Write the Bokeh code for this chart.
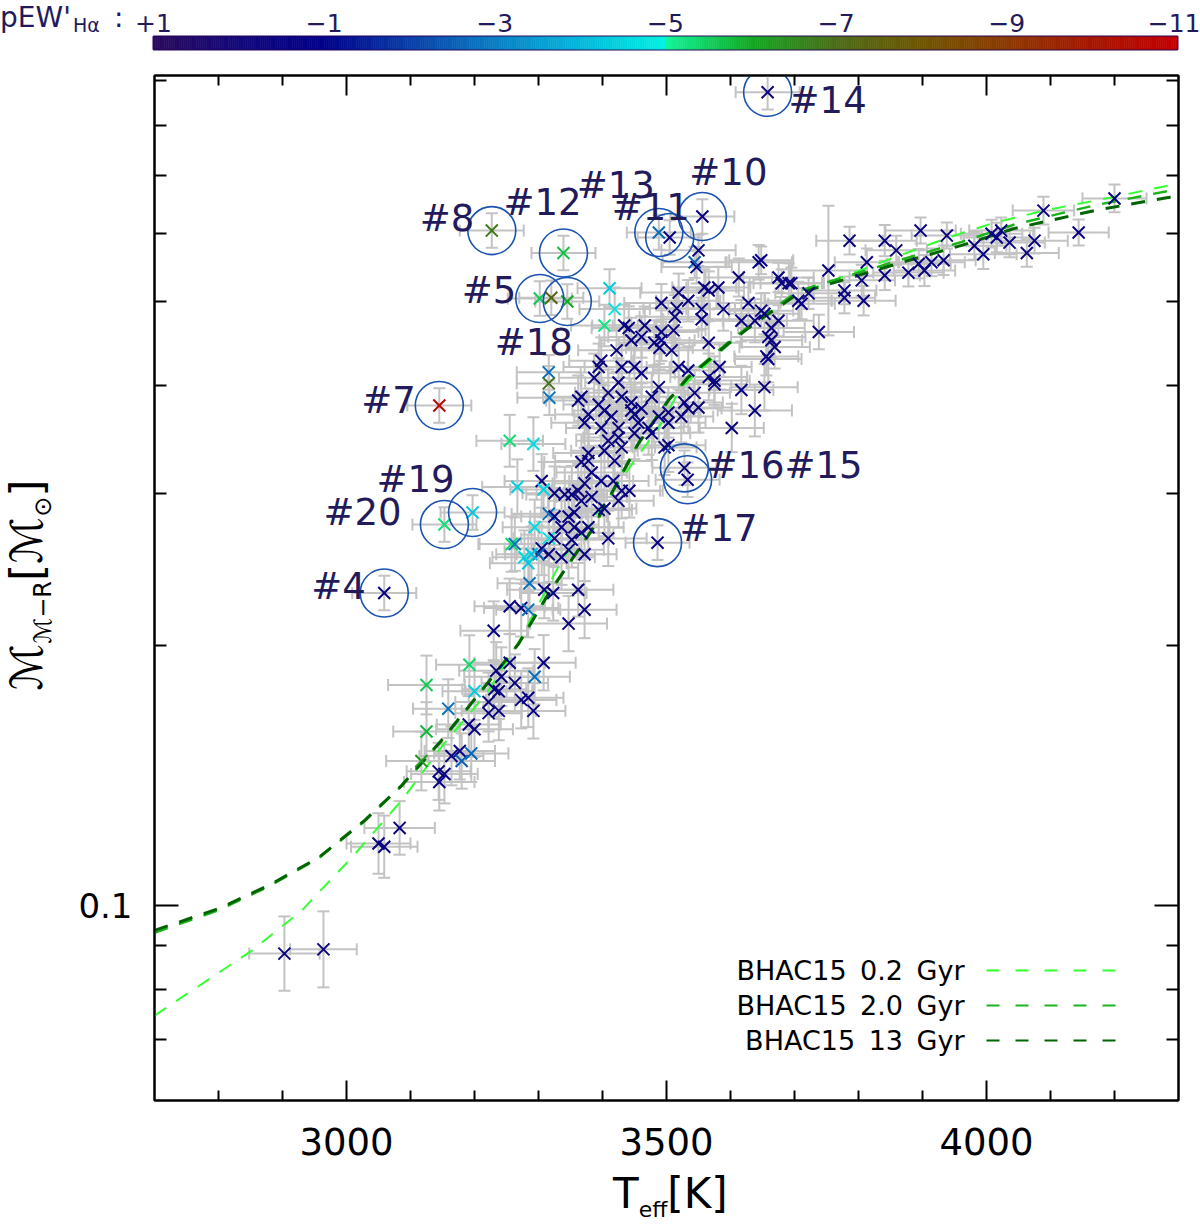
import numpy as np
from bokeh.plotting import figure
from bokeh.models import (Range1d, FixedTicker, LinearAxis, LogAxis, Whisker, TeeHead,
                          ColumnDataSource, Label, Arrow, PrintfTickFormatter, Div,
                          CustomJSTickFormatter)
from bokeh.layouts import column, row
from bokeh.embed import file_html
from bokeh.resources import INLINE
from bokeh.core.properties import value

FONT = "DejaVu Sans"
TXT = "#231a5c"

# ---------------- data ----------------
teff = [
    3786, 3841, 3897, 3859, 3753, 3813, 3805, 3841, 3778, 3778,
    3808, 3738, 3711, 3680, 3695, 3675, 3648, 3722, 3648, 3675,
    3664, 3656, 3664, 3878, 3894, 3903, 3914, 3933, 3938, 3981,
    3995, 4008, 4023, 4036, 4063, 4075, 4089, 4144, 4200, 4016,
    3411, 3419, 3403, 3441, 3466, 3492, 3513, 3519, 3534, 3555,
    3566, 3581, 3589, 3613, 3628, 3691, 3706, 3555, 3511, 3481,
    3489, 3508, 3445, 3450, 3422, 3461, 3398, 3387, 3430, 3461,
    3519, 3534, 3566, 3566, 3583, 3575, 3617, 3638, 3659, 3659,
    3669, 3617, 3653, 3638, 3602, 3544, 3528, 3550, 3523, 3488,
    3477, 3461, 3445, 3430, 3409, 3367, 3362, 3394, 3378, 3403,
    3414, 3372, 3398, 3425, 3450, 3456, 3472, 3488, 3503, 3534,
    3409, 3425, 3430, 3477, 3497, 3378, 3403, 3419, 3503, 3445,
    3255, 3292, 3267, 3305, 3308, 3325, 3341, 3352, 3362, 3372,
    3383, 3367, 3378, 3398, 3417, 3430, 3442, 3450, 3503, 3383,
    3367, 3403, 3425, 3316, 3325, 3294, 3316, 3347, 3356, 3336,
    3356, 3325, 3352, 3367, 3378, 3394, 3409, 3372, 3347, 3336,
    3316, 3305, 3300, 3289, 3278, 3284, 3258, 3263, 3286, 3309,
    3323, 3362, 3372, 3347, 3230, 3255, 3273, 3284, 3192, 3255,
    3308, 3242, 3263, 3294, 3125, 3200, 3238, 3284, 3234, 3231,
    3222, 3273, 3292, 3238, 3222, 3159, 3191, 3200, 3125, 3177,
    3164, 3195, 3180, 3117, 3144, 3153, 3145, 3083, 3050, 3059,
    2903, 2964, 3550, 3544, 3547, 3644, 3559, 3492, 3516, 3653,
    3434, 3394, 3425, 3492, 3575,
]
mass = [
    0.588, 0.588, 0.604, 0.573, 0.543, 0.555, 0.529, 0.536, 0.515, 0.505,
    0.501, 0.461, 0.497, 0.525, 0.525, 0.533, 0.558, 0.511, 0.488, 0.475,
    0.451, 0.432, 0.466, 0.540, 0.553, 0.543, 0.555, 0.558, 0.596, 0.580,
    0.567, 0.599, 0.604, 0.585, 0.569, 0.588, 0.637, 0.601, 0.658, 0.593,
    0.518, 0.490, 0.469, 0.466, 0.469, 0.451, 0.480, 0.512, 0.501, 0.490,
    0.515, 0.519, 0.490, 0.533, 0.498, 0.525, 0.501, 0.477, 0.463, 0.448,
    0.442, 0.439, 0.451, 0.420, 0.439, 0.455, 0.427, 0.408, 0.420, 0.413,
    0.420, 0.416, 0.448, 0.409, 0.420, 0.405, 0.475, 0.475, 0.455, 0.429,
    0.443, 0.395, 0.398, 0.374, 0.357, 0.392, 0.382, 0.377, 0.368, 0.398,
    0.388, 0.376, 0.374, 0.388, 0.392, 0.388, 0.384, 0.380, 0.370, 0.374,
    0.368, 0.362, 0.357, 0.357, 0.370, 0.362, 0.357, 0.368, 0.362, 0.376,
    0.345, 0.348, 0.339, 0.352, 0.339, 0.334, 0.336, 0.327, 0.372, 0.382,
    0.345, 0.342, 0.305, 0.310, 0.303, 0.300, 0.299, 0.299, 0.302, 0.308,
    0.317, 0.326, 0.327, 0.310, 0.310, 0.302, 0.302, 0.352, 0.341, 0.297,
    0.294, 0.288, 0.294, 0.284, 0.282, 0.274, 0.266, 0.282, 0.285, 0.274,
    0.274, 0.266, 0.265, 0.270, 0.274, 0.287, 0.266, 0.255, 0.258, 0.253,
    0.255, 0.259, 0.255, 0.255, 0.253, 0.249, 0.262, 0.262, 0.236, 0.232,
    0.230, 0.232, 0.220, 0.212, 0.208, 0.222, 0.221, 0.220, 0.190, 0.191,
    0.191, 0.184, 0.181, 0.184, 0.180, 0.177, 0.177, 0.174, 0.187, 0.178,
    0.172, 0.173, 0.168, 0.168, 0.167, 0.169, 0.162, 0.160, 0.159, 0.151,
    0.149, 0.150, 0.147, 0.147, 0.143, 0.142, 0.139, 0.123, 0.118, 0.117,
    0.088, 0.089, 0.573, 0.555, 0.548, 0.555, 0.519, 0.498, 0.491, 0.484,
    0.469, 0.420, 0.403, 0.461, 0.401,
]
pew = [
    -0.4, -0.6, -0.5, -0.3, -0.5, -0.7, -0.4, -0.5, -0.6, -0.3,
    -0.5, -0.4, -0.6, -0.5, -0.3, -0.5, -0.7, -0.4, -0.5, -0.6,
    -0.4, -0.5, -0.3, -0.6, -0.5, -0.4, -0.7, -0.5, -0.3, -0.5,
    -0.6, -0.4, -0.5, -0.5, -0.3, -0.6, -0.5, -0.4, -0.5, -0.6,
    -4.3, -4.8, -5.2, -0.5, -0.4, -0.6, -0.5, -0.3, -0.5, -0.7,
    -0.4, -0.5, -0.6, -0.3, -0.5, -0.4, -0.6, -0.5, -0.3, -0.5,
    -0.7, -0.4, -0.5, -0.6, -0.4, -0.5, -0.3, -0.5, -0.6, -0.4,
    -0.5, -0.7, -0.4, -0.5, -0.6, -0.3, -0.5, -0.4, -0.6, -0.5,
    -0.4, -0.5, -0.3, -0.6, -0.5, -0.4, -0.7, -0.5, -0.3, -0.5,
    -0.6, -0.4, -0.5, -0.5, -0.3, -0.6, -0.5, -0.4, -0.5, -0.6,
    -0.4, -0.5, -0.6, -0.3, -0.5, -0.7, -0.4, -0.5, -0.6, -0.5,
    -0.4, -0.5, -0.3, -0.6, -0.5, -0.4, -0.5, -0.6, -0.3, -0.5,
    -5.3, -4.6, -4.4, -0.5, -4.5, -0.6, -0.4, -0.5, -0.3, -0.5,
    -0.6, -0.4, -0.5, -0.7, -0.5, -0.3, -0.5, -0.6, -0.4, -0.5,
    -0.5, -0.6, -0.4, -2.8, -0.5, -4.6, -4.8, -0.4, -0.6, -0.5,
    -0.3, -0.5, -0.6, -0.4, -0.5, -0.7, -0.5, -0.4, -0.6, -0.5,
    -0.4, -0.5, -2.5, -4.2, -4.6, -4.3, -5.4, -2.8, -2.8, -0.5,
    -0.6, -0.4, -0.5, -0.3, -0.5, -0.6, -0.4, -2.8, -5.4, -0.5,
    -0.6, -0.5, -0.4, -2.8, -5.6, -4.4, -0.5, -0.6, -0.4, -0.5,
    -0.3, -0.5, -0.6, -0.4, -0.5, -2.8, -0.5, -0.4, -5.8, -0.6,
    -0.5, -2.6, -2.5, -6.3, -0.4, -0.5, -0.6, -0.5, -0.4, -0.5,
    -0.5, -0.4, -0.5, -2.6, -0.5, -0.6, -0.4, -0.5, -0.3, -0.5,
    -0.6, -0.4, -0.5, -0.5, -0.4,
]
teff_err = [
    52, 50, 55, 48, 60, 50, 52, 55, 50, 48,
    50, 55, 52, 50, 48, 55, 50, 52, 50, 55,
    48, 50, 52, 55, 50, 48, 52, 50, 55, 50,
    52, 48, 50, 55, 50, 52, 48, 47, 50, 52,
    50, 55, 52, 58, 50, 52, 55, 60, 50, 52,
    55, 50, 58, 52, 50, 55, 52, 60, 50, 55,
    52, 58, 50, 55, 60, 52, 50, 55, 58, 52,
    50, 55, 52, 60, 50, 55, 52, 50, 58, 52,
    55, 50, 52, 58, 50, 55, 60, 52, 50, 55,
    52, 58, 50, 55, 52, 60, 50, 55, 52, 50,
    58, 52, 55, 50, 60, 52, 55, 50, 58, 52,
    50, 55, 52, 60, 50, 55, 52, 58, 50, 55,
    52, 50, 55, 58, 52, 50, 60, 55, 52, 50,
    55, 58, 52, 50, 55, 60, 52, 50, 58, 55,
    52, 50, 55, 58, 52, 50, 55, 60, 52, 50,
    55, 52, 58, 50, 55, 52, 60, 50, 55, 52,
    50, 58, 52, 55, 50, 60, 52, 55, 50, 58,
    52, 55, 50, 60, 52, 55, 58, 50, 52, 55,
    50, 58, 52, 55, 60, 50, 52, 55, 58, 50,
    52, 55, 50, 58, 52, 55, 50, 60, 52, 55,
    50, 58, 52, 55, 50, 52, 55, 55, 50, 52,
    55, 52, 58, 50, 55, 52, 50, 58, 52, 55,
    50, 55, 52, 58, 50,
]
mass_err_dex = [
    .016, .018, .015, .017, .075, .016, .018, .017, .016, .018,
    .017, .020, .018, .016, .018, .017, .016, .018, .020, .018,
    .020, .022, .018, .016, .017, .018, .016, .017, .015, .016,
    .017, .016, .015, .017, .016, .015, .016, .015, .016, .017,
    .022, .025, .024, .025, .022, .024, .025, .022, .024, .023,
    .022, .024, .025, .022, .024, .023, .022, .025, .024, .026,
    .025, .024, .026, .028, .025, .024, .027, .028, .026, .027,
    .026, .028, .025, .027, .026, .028, .024, .025, .026, .027,
    .025, .028, .027, .030, .028, .027, .028, .029, .030, .027,
    .028, .029, .030, .028, .027, .028, .029, .028, .030, .029,
    .030, .029, .030, .031, .029, .030, .031, .029, .030, .028,
    .031, .030, .032, .031, .032, .031, .030, .032, .029, .028,
    .030, .031, .032, .031, .032, .031, .032, .033, .031, .032,
    .031, .032, .031, .032, .033, .032, .031, .030, .031, .032,
    .033, .032, .031, .032, .033, .032, .031, .033, .032, .031,
    .032, .033, .032, .031, .032, .033, .032, .031, .033, .032,
    .032, .031, .033, .032, .031, .033, .032, .031, .032, .033,
    .032, .031, .033, .032, .034, .032, .033, .032, .034, .033,
    .032, .034, .033, .032, .034, .033, .032, .034, .033, .032,
    .034, .033, .032, .034, .033, .034, .033, .032, .034, .033,
    .034, .033, .032, .034, .033, .034, .033, .031, .035, .036,
    .043, .044, .018, .018, .019, .020, .021, .022, .022, .024,
    .024, .027, .028, .025, .027,
]

# numbered targets
star_teff = [3658, 3556, 3488, 3505, 3227, 3339, 3302, 3320, 3345, 3316, 3316, 3317,
             3145, 3197, 3153, 3059, 3528, 3533, 3486]
star_mass = [0.873, 0.627, 0.601, 0.593, 0.604, 0.569, 0.504, 0.505, 0.500, 0.414, 0.402, 0.387,
             0.379, 0.285, 0.276, 0.230, 0.321, 0.311, 0.263]
star_pew = [-0.3, -0.5, -2.7, -0.5, -6.8, -5.7, -5.6, -7.3, -6.0, -2.7, -6.9, -2.9,
            -10.6, -4.3, -5.3, -0.5, -0.5, -0.5, -0.5]
star_circled = [1, 1, 1, 1, 1, 1, 1, 0, 1, 0, 0, 0, 1, 1, 1, 1, 1, 1, 1]
star_label = ["#14", "#10", "#13", "#11", "#8", "#12", "#5", "", "", "#18", "", "",
              "#7", "#19", "#20", "#4", "#16#15", "", "#17"]
label_dx = [21, -13, -82, -58, -72, -60, -78, 0, 0, -54, 0, 0, -78, -96, -121, -73, 22, 0, 22]
label_dy = [8, -44, -47, -30, -12, -50, -8, 0, 0, -30, 0, 0, -5, -33, -12, -6, -2, 0, -14]

# BHAC15 isochrones
iso02_teff = [2700, 2852, 2930, 3008, 3086, 3148, 3222, 3273, 3336, 3398, 3450, 3488,
              3523, 3581, 3628, 3700, 3773, 3856, 3941, 4013, 4091, 4195, 4300]
iso02_mass = [0.0746, 0.0887, 0.0987, 0.1136, 0.1323, 0.1524, 0.1773, 0.2042, 0.2507, 0.2888,
              0.3273, 0.3574, 0.3977, 0.4353, 0.4667, 0.5082, 0.5332, 0.5623, 0.5931, 0.6171,
              0.6372, 0.6597, 0.6847]
iso20_teff = [2700, 2800, 2878, 2956, 3028, 3086, 3148, 3211, 3269, 3316, 3383, 3456,
              3503, 3534, 3597, 3638, 3706, 3867, 3961, 4044, 4169, 4300]
iso20_mass = [0.0930, 0.0988, 0.1052, 0.1134, 0.1252, 0.1375, 0.1550, 0.1772, 0.2010, 0.2300,
              0.2720, 0.3430, 0.3850, 0.4095, 0.4490, 0.4740, 0.5140, 0.5590, 0.5860, 0.6140,
              0.6460, 0.6750]
iso13_teff = [2700, 2800, 2878, 2956, 3028, 3086, 3148, 3211, 3269, 3316, 3383, 3456,
              3503, 3534, 3597, 3638, 3706, 3867, 3961, 4044, 4169, 4284, 4300]
iso13_mass = [0.0936, 0.0992, 0.1055, 0.1136, 0.1254, 0.1377, 0.1552, 0.1773, 0.2009, 0.2297,
              0.2716, 0.3424, 0.3841, 0.4086, 0.4471, 0.4717, 0.5109, 0.5548, 0.5806, 0.6075,
              0.6372, 0.6597, 0.6610]
iso_labels = ["BHAC15\u20020.2\u2002Gyr", "BHAC15\u20022.0\u2002Gyr", "BHAC15\u200213\u2002Gyr"]
iso_colors = ["#33ff33", "#1db31d", "#006400"]

# colour scale of pEW'(Halpha)
cbar_ticks = [1, -1, -3, -5, -7, -9, -11]
cbar_tick_labels = ["+1", "\u22121", "\u22123", "\u22125", "\u22127", "\u22129", "\u221211"]
cmap_values = [1, 0, -1, -2, -3, -4, -5, -5.001, -6, -7, -8, -9, -10, -11]
cmap_colors = ["#2b0a5c", "#12087a", "#00008a", "#0a3ea8", "#0a7ec4", "#05b8dc", "#00f2e2",
               "#10f59a", "#12aa22", "#4c6c18", "#6e5600", "#8c3a00", "#a61600", "#c40000"]


def _rgb(h):
    return [int(h[i:i + 2], 16) for i in (1, 3, 5)]


_xp = np.array(cmap_values[::-1], dtype=float)
_rgbs = np.array([_rgb(c) for c in cmap_colors[::-1]], dtype=float)


def pew_color(v):
    r, g, b = (np.interp(v, _xp, _rgbs[:, k]) for k in range(3))
    return "#%02x%02x%02x" % (int(round(r)), int(round(g)), int(round(b)))


# ---------------- layout constants ----------------
W_SIDE = 75          # width of the y-title / pEW text column
W_PEW = 130

# ---------------- colour bar figure ----------------
cb = figure(width=1200 - W_PEW, height=68, x_range=Range1d(cbar_ticks[0], cbar_ticks[-1]),
            y_range=Range1d(0, 1), x_axis_location=None, y_axis_location=None,
            output_backend="svg", toolbar_location=None,
            min_border_left=153 - W_PEW, min_border_right=23, min_border_top=36,
            min_border_bottom=19)
cb.grid.grid_line_color = None
cb.outline_line_color = "#2b0a5c"
cb.outline_line_width = 2
edges = np.linspace(cbar_ticks[0], cbar_ticks[-1], 481)
mids = 0.5 * (edges[:-1] + edges[1:])
seg_cols = [pew_color(v) for v in mids]
cb.quad(left=edges[:-1], right=edges[1:], bottom=0, top=1, fill_color=seg_cols,
        line_color=seg_cols, line_width=0.6)
cb_axis = LinearAxis(ticker=FixedTicker(ticks=cbar_ticks, minor_ticks=[]),
                     major_label_overrides=dict(zip(cbar_ticks, cbar_tick_labels)))
cb_axis.axis_line_color = None
cb_axis.major_tick_line_color = None
cb_axis.major_tick_out = 0
cb_axis.major_tick_in = 0
cb_axis.major_label_standoff = 5
cb_axis.major_label_text_font = FONT
cb_axis.major_label_text_font_size = "25px"
cb_axis.major_label_text_color = TXT
cb.add_layout(cb_axis, "above")

div_pew = Div(width=W_PEW, height=68, margin=0, text=(
    '<div style="position:relative;width:%dpx;height:68px;font-family:\'DejaVu Sans\';color:%s;">'
    '<span style="position:absolute;left:0px;top:3px;font-size:28px;line-height:30px;">pEW\'</span>'
    '<span style="position:absolute;left:73px;top:15px;font-size:19px;line-height:20px;">H\u03b1</span>'
    '<span style="position:absolute;left:114px;top:3px;font-size:28px;line-height:30px;">:</span>'
    '</div>') % (W_PEW, TXT))

# ---------------- main figure ----------------
p = figure(frame_width=1024, frame_height=1025, width=1200 - W_SIDE, height=1097,
           x_range=Range1d(2700, 4300),
           y_range=Range1d(0.0595, 0.913), y_axis_type="log",
           x_axis_location=None, y_axis_location=None, output_backend="svg",
           toolbar_location=None, min_border_left=153 - W_SIDE, min_border_right=23,
           min_border_top=7, min_border_bottom=65)
p.grid.grid_line_color = None
p.outline_line_color = "black"
p.outline_line_width = 2

x_major = [3000, 3500, 4000]
x_minor = [2800, 2900, 3100, 3200, 3300, 3400, 3600, 3700, 3800, 3900, 4100, 4200]
y_major = [0.1]
y_minor = [0.07, 0.08, 0.09, 0.2, 0.3, 0.4, 0.5, 0.6, 0.7, 0.8, 0.9]


def style_axis(ax, show_labels, major_in, minor_in, font_size="37px", standoff=28):
    ax.axis_line_width = 2
    ax.axis_line_color = "black"
    ax.major_tick_in = major_in
    ax.major_tick_out = 0
    ax.minor_tick_in = minor_in
    ax.minor_tick_out = 0
    ax.major_tick_line_width = 2
    ax.minor_tick_line_width = 2
    ax.major_tick_line_color = "black"
    ax.minor_tick_line_color = "black"
    ax.major_label_text_font = FONT
    ax.major_label_text_color = "black"
    if show_labels:
        ax.major_label_text_font_size = font_size
        ax.major_label_standoff = standoff
    else:
        ax.formatter = CustomJSTickFormatter(code="return ''")
        ax.major_label_text_font_size = "1px"
        ax.major_label_standoff = 0


xb = LinearAxis(ticker=FixedTicker(ticks=x_major, minor_ticks=x_minor))
style_axis(xb, True, 20, 10, "37px", 27)
p.add_layout(xb, "below")
xt = LinearAxis(ticker=FixedTicker(ticks=x_major, minor_ticks=x_minor))
style_axis(xt, False, 20, 10)
p.add_layout(xt, "above")
yl = LogAxis(ticker=FixedTicker(ticks=y_major, minor_ticks=y_minor),
             formatter=PrintfTickFormatter(format="%.1f"))
style_axis(yl, True, 24, 12, "34px", 22)
p.add_layout(yl, "left")
yr = LogAxis(ticker=FixedTicker(ticks=y_major, minor_ticks=y_minor))
style_axis(yr, False, 24, 12)
p.add_layout(yr, "right")

# sources
n = min(len(teff), len(mass), len(pew), len(teff_err), len(mass_err_dex))
t_arr = np.array(teff[:n], dtype=float)
m_arr = np.array(mass[:n], dtype=float)
te = np.array(teff_err[:n], dtype=float)
me = np.array(mass_err_dex[:n], dtype=float)
src = ColumnDataSource(dict(t=t_arr, m=m_arr, tl=t_arr - te, tu=t_arr + te,
                            ml=m_arr * 10 ** (-me), mu=m_arr * 10 ** me,
                            c=[pew_color(v) for v in pew[:n]]))

st = np.array(star_teff, dtype=float)
sm = np.array(star_mass, dtype=float)
ssrc = ColumnDataSource(dict(t=st, m=sm, tl=st - 50, tu=st + 50,
                             ml=sm * 10 ** -0.02, mu=sm * 10 ** 0.02,
                             c=[pew_color(v) for v in star_pew]))

ERR = "#c3c3c3"
for s in (src, ssrc):
    p.add_layout(Whisker(source=s, base="m", lower="tl", upper="tu", dimension="width",
                         line_color=ERR, line_width=2,
                         upper_head=TeeHead(size=12, line_color=ERR, line_width=2),
                         lower_head=TeeHead(size=12, line_color=ERR, line_width=2)))
    p.add_layout(Whisker(source=s, base="t", lower="ml", upper="mu", dimension="height",
                         line_color=ERR, line_width=2,
                         upper_head=TeeHead(size=12, line_color=ERR, line_width=2),
                         lower_head=TeeHead(size=12, line_color=ERR, line_width=2)))

# isochrones
for tt, mm, col, lw in ((iso02_teff, iso02_mass, iso_colors[0], 2),
                        (iso20_teff, iso20_mass, iso_colors[1], 2.5),
                        (iso13_teff, iso13_mass, iso_colors[2], 3)):
    p.line(tt, mm, line_color=col, line_dash="14 12", line_width=lw)

p.scatter("t", "m", source=src, marker="x", size=17, line_color="c", line_width=2)
p.scatter("t", "m", source=ssrc, marker="x", size=17, line_color="c", line_width=2)

circ_t = [t for t, f in zip(star_teff, star_circled) if f]
circ_m = [m for m, f in zip(star_mass, star_circled) if f]
p.scatter(circ_t, circ_m, marker="circle", size=48, fill_alpha=0, line_color="#1a52b0",
          line_width=1.6)

lab_idx = [i for i, s in enumerate(star_label) if s]
lsrc = ColumnDataSource(dict(t=[star_teff[i] for i in lab_idx], m=[star_mass[i] for i in lab_idx],
                             txt=[star_label[i] for i in lab_idx],
                             dx=[label_dx[i] for i in lab_idx], dy=[label_dy[i] for i in lab_idx]))
p.text("t", "m", text="txt", x_offset="dx", y_offset="dy", source=lsrc, text_align="left",
       text_baseline="middle", text_font=value(FONT), text_font_size="37px", text_color=TXT)

# legend (text left, dashed sample right)
for k, (lab, col) in enumerate(zip(iso_labels, iso_colors)):
    sy = 130 - 35 * k
    p.add_layout(Label(x=810, y=sy, x_units="screen", y_units="screen", text=lab,
                       text_align="right", text_baseline="middle", text_font=FONT,
                       text_font_size="27px", text_color="black"))
    p.add_layout(Arrow(end=None, x_start=832, y_start=sy, x_end=962, y_end=sy,
                       start_units="screen", end_units="screen", line_color=col,
                       line_width=2, line_dash="13 16"))

# axis titles (HTML text beside the plot)
div_y = Div(width=W_SIDE, height=1097, margin=0, text=(
    '<div style="position:relative;width:%dpx;height:1097px;">'
    '<div style="position:absolute;left:35px;top:517px;transform:translate(-50%%,-50%%) rotate(-90deg);'
    'white-space:nowrap;font-family:\'DejaVu Sans\';font-size:44px;line-height:44px;color:black;">'
    '\u2133<sub style="font-size:24px;">\u2133\u2212R</sub>[\u2133<sub style="font-size:24px;">\u2299</sub>]'
    '</div></div>') % W_SIDE)

div_x = Div(width=1200, height=64, margin=0, text=(
    '<div style="position:relative;width:1200px;height:64px;">'
    '<div style="position:absolute;left:613px;top:8px;white-space:nowrap;'
    'font-family:\'DejaVu Sans\';font-size:42px;line-height:42px;color:black;">'
    'T<sub style="font-size:22px;">eff</sub>[K]</div></div>'))

layout = column(row(div_pew, cb), row(div_y, p), div_x)
open("out.html", "w").write(file_html(layout, INLINE))
